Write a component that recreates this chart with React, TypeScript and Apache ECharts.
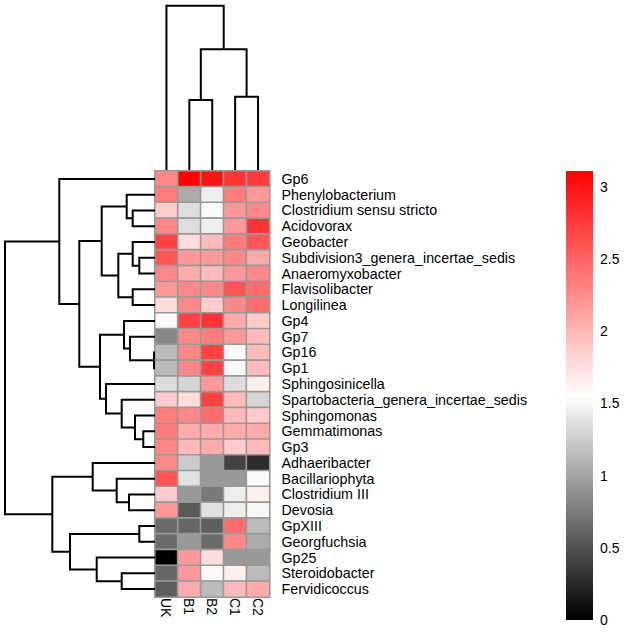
import React, { useEffect, useRef } from "react";
import * as echarts from "echarts";

const columns = ["UK", "B1", "B2", "C1", "C2"];
const rows = [
  "Gp6", "Phenylobacterium", "Clostridium sensu stricto", "Acidovorax", "Geobacter",
  "Subdivision3_genera_incertae_sedis", "Anaeromyxobacter", "Flavisolibacter", "Longilinea",
  "Gp4", "Gp7", "Gp16", "Gp1", "Sphingosinicella", "Spartobacteria_genera_incertae_sedis",
  "Sphingomonas", "Gemmatimonas", "Gp3", "Adhaeribacter", "Bacillariophyta", "Clostridium III",
  "Devosia", "GpXIII", "Georgfuchsia", "Gp25", "Steroidobacter", "Fervidicoccus",
];

const ukValues = [2.28, 2.35, 1.87, 2.28, 2.7, 2.59, 2.28, 2.18, 1.76, 1.52, 0.83, 1.14, 1.14, 1.35, 1.87, 2.35, 2.35, 2.28, 2.28, 2.59, 1.87, 2.18, 0.65, 0.65, 0.0, 0.62, 0.58];
const b1Values = [3.1, 1.04, 1.35, 1.35, 1.76, 2.18, 2.07, 2.28, 2.28, 2.7, 2.28, 2.28, 2.28, 1.3, 1.76, 2.28, 2.07, 1.97, 1.24, 1.37, 0.93, 0.55, 0.62, 0.93, 2.18, 2.18, 2.07];
const b2Values = [3.0, 1.45, 1.52, 1.45, 1.97, 2.18, 1.97, 2.28, 1.87, 2.8, 2.35, 2.7, 2.7, 2.18, 2.7, 2.45, 2.07, 2.07, 0.93, 0.93, 0.73, 1.37, 0.58, 0.65, 1.76, 1.52, 1.14];
const c1Values = [2.8, 2.35, 2.18, 2.18, 2.35, 2.28, 2.18, 2.59, 2.28, 2.07, 2.18, 1.52, 1.52, 1.35, 1.97, 1.97, 2.07, 1.87, 0.41, 0.93, 1.45, 1.45, 2.45, 2.28, 0.93, 1.65, 1.97];
const c2Values = [2.75, 2.18, 2.28, 2.8, 2.59, 2.07, 2.28, 2.45, 2.45, 1.87, 1.97, 1.97, 1.97, 1.65, 1.3, 1.87, 2.07, 1.97, 0.26, 1.52, 1.65, 1.5, 1.14, 1.04, 0.93, 1.14, 2.07];
const columnValues = [ukValues, b1Values, b2Values, c1Values, c2Values];

// dendrograms: [height, left, right]; numbers are leaf indices in display order
type Tree = number | [number, Tree, Tree];
const rowTree: Tree = [150,
  [95.7, 0, [75.7,
    [53.3, [28.3, 1, [22.3, 2, 3]], [36.7, [22.3, 4, [15.7, 5, 6]], [22.3, 7, 8]]],
    [55, [31, 9, [25, 10, [1, 11, 12]]], [49, 13, [33.3, 14, [20, 15, [11.7, 16, 17]]]]],
  ]],
  [102.7, [62.3, 18, [38.3, 19, [26, 20, 21]]], [85, [15.7, 22, 23], [58.3, 24, [33.3, 25, 26]]]],
];
const colTree: Tree = [164.3, 0, [120.7, [70, 1, 2], [73.3, 3, 4]]];

const legendTicks = [0, 0.5, 1, 1.5, 2, 2.5, 3];
const valueMin = 0;
const valueMax = 3.11;
const scaleColors = ["#000000", "#ffffff", "#ff0000"];

function merges(t: Tree, out: number[][]): [number, number] {
  if (typeof t === "number") return [t, 0];
  const [h, a, b] = t;
  const A = merges(a, out);
  const B = merges(b, out);
  out.push([A[0], A[1], B[0], B[1], h]);
  return [(A[0] + B[0]) / 2, h];
}

const FONT = "'Liberation Sans', Arial, sans-serif";

export default function App() {
  const ref = useRef<HTMLDivElement>(null);
  useEffect(() => {
    if (!ref.current) return;
    const chart = echarts.init(ref.current, null, { renderer: "svg" });
    const rowSegs: number[][] = [];
    merges(rowTree, rowSegs);
    const colSegs: number[][] = [];
    merges(colTree, colSegs);
    const heatData: number[][] = [];
    columnValues.forEach((col, ci) => col.forEach((v, ri) => heatData.push([ci, ri, v])));

    const lineStyle = { stroke: "#000", lineWidth: 2, fill: "none", lineJoin: "miter" };

    chart.setOption({
      animation: false,
      backgroundColor: "#fff",
      grid: [
        { left: 155, top: 171, width: 114.5, height: 426 },
        { left: 0, top: 171, width: 155, height: 426 },
        { left: 155, top: 0, width: 114.5, height: 170 },
        { left: 566, top: 171, width: 27, height: 449 },
      ],
      xAxis: [
        {
          type: "category", gridIndex: 0, data: columns, position: "bottom",
          axisLine: { show: false }, axisTick: { show: false }, splitLine: { show: false },
          axisLabel: { interval: 0, rotate: -90, margin: 1, fontSize: 14, color: "#000", fontFamily: FONT },
        },
        { type: "value", gridIndex: 1, min: 0, max: 155, inverse: true, show: false },
        { type: "value", gridIndex: 2, min: -0.5, max: columns.length - 0.5, show: false },
        { type: "value", gridIndex: 3, min: 0, max: 1, show: false },
      ],
      yAxis: [
        {
          type: "category", gridIndex: 0, data: rows, inverse: true, position: "right",
          axisLine: { show: false }, axisTick: { show: false }, splitLine: { show: false },
          axisLabel: { interval: 0, margin: 12, fontSize: 14.3, color: "#000", fontFamily: FONT, hideOverlap: false },
        },
        { type: "value", gridIndex: 1, min: -0.5, max: rows.length - 0.5, inverse: true, show: false },
        { type: "value", gridIndex: 2, min: 0, max: 170, show: false },
        {
          type: "value", gridIndex: 3, min: valueMin, max: valueMax, position: "right",
          axisLine: { show: false }, axisTick: { show: false }, splitLine: { show: false },
          axisLabel: {
            customValues: legendTicks, margin: 7, fontSize: 14, color: "#000", fontFamily: FONT,
            formatter: (v: number) => String(v),
          },
        },
      ],
      visualMap: {
        type: "continuous", show: false, min: valueMin, max: valueMax, seriesIndex: 0, dimension: 2,
        inRange: { color: scaleColors },
      },
      series: [
        {
          type: "heatmap", xAxisIndex: 0, yAxisIndex: 0, data: heatData,
          itemStyle: { borderColor: "#999999", borderWidth: 1.6 },
          emphasis: { disabled: true },
        },
        {
          type: "custom", xAxisIndex: 1, yAxisIndex: 1, data: rowSegs,
          renderItem: (_p: any, api: any) => {
            const pa = api.value(0), ha = api.value(1), pb = api.value(2), hb = api.value(3), h = api.value(4);
            const pts = [api.coord([ha, pa]), api.coord([h, pa]), api.coord([h, pb]), api.coord([hb, pb])];
            return { type: "polyline", shape: { points: pts }, style: lineStyle };
          },
        },
        {
          type: "custom", xAxisIndex: 2, yAxisIndex: 2, data: colSegs,
          renderItem: (_p: any, api: any) => {
            const pa = api.value(0), ha = api.value(1), pb = api.value(2), hb = api.value(3), h = api.value(4);
            const pts = [api.coord([pa, ha]), api.coord([pa, h]), api.coord([pb, h]), api.coord([pb, hb])];
            return { type: "polyline", shape: { points: pts }, style: lineStyle };
          },
        },
        {
          type: "custom", xAxisIndex: 3, yAxisIndex: 3, data: [[0, valueMin, 1, valueMax]],
          renderItem: (_p: any, api: any) => {
            const p0 = api.coord([api.value(0), api.value(3)]);
            const p1 = api.coord([api.value(2), api.value(1)]);
            return {
              type: "rect",
              shape: { x: p0[0], y: p0[1], width: p1[0] - p0[0], height: p1[1] - p0[1] },
              style: {
                fill: new echarts.graphic.LinearGradient(0, 0, 0, 1, [
                  { offset: 0, color: scaleColors[2] },
                  { offset: 0.5, color: scaleColors[1] },
                  { offset: 1, color: scaleColors[0] },
                ]),
              },
            };
          },
        },
      ],
    });
    return () => chart.dispose();
  }, []);
  return <div ref={ref} style={{ position: "fixed", left: 0, top: 0, width: 625, height: 632 }} />;
}
